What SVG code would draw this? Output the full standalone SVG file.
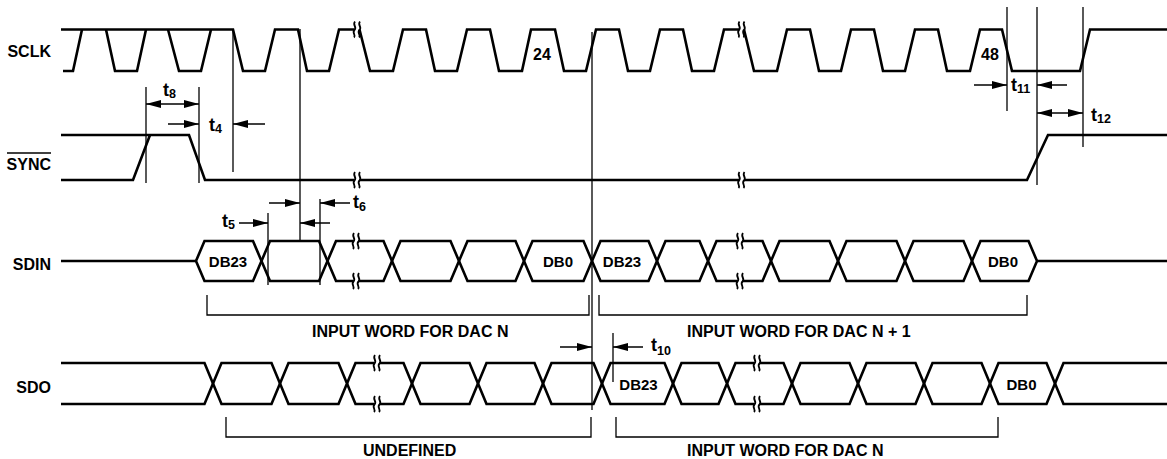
<svg xmlns="http://www.w3.org/2000/svg" xmlns:xlink="http://www.w3.org/1999/xlink" width="1167" height="459" viewBox="0 0 1167 459">
<style>
.sig{fill:none;stroke:#000;stroke-width:2.6;stroke-linejoin:miter;stroke-linecap:butt}
.thin{fill:none;stroke:#000;stroke-width:1.3}
.arr{fill:none;stroke:#000;stroke-width:1.5}
.brk{fill:none;stroke:#000;stroke-width:1.8}
.lbl{font-family:"Liberation Sans",Arial,sans-serif;font-weight:bold;font-size:16px;fill:#000}
.db{font-family:"Liberation Sans",Arial,sans-serif;font-weight:bold;font-size:15px;fill:#000;text-anchor:middle}
.t{font-family:"Liberation Sans",Arial,sans-serif;font-weight:bold;font-size:18px;fill:#000}
.sub{font-size:12.5px}
</style>
<defs>
<marker id="ah" viewBox="0 0 15 8" refX="15" refY="4" markerWidth="15" markerHeight="8" markerUnits="userSpaceOnUse" orient="auto-start-reverse"><path d="M0,0 L15,4 L0,8 Z" fill="#000"/></marker>
<g id="bk" class="brk"><path d="M-2,-8 C-5,-4.5 0.5,-2.5 -2.5,0.5 C-5.5,3.5 -0.5,5.5 -3,8"/><path d="M3,-8 C0,-4.5 5.5,-2.5 2.5,0.5 C-0.5,3.5 4.5,5.5 2,8"/></g>
</defs>
<rect width="1167" height="459" fill="#fff"/>

<g id="labels">
<text class="lbl" x="51" y="57" text-anchor="end">SCLK</text>
<text class="lbl" x="51" y="170" text-anchor="end">SYNC</text>
<line x1="7" y1="153" x2="51" y2="153" stroke="#000" stroke-width="1.5"/>
<text class="lbl" x="51" y="270" text-anchor="end">SDIN</text>
<text class="lbl" x="51" y="393" text-anchor="end">SDO</text>
</g>

<g id="sclk">
<path class="sig" d="M61,29.5 H233 L243,71 H265 L275,29.5 H298 L307,71 H329 L339,29.5 H354.5"/>
<path class="sig" d="M63,71 H73 L82,29.5"/>
<path class="sig" d="M106,29.5 L115,71 H137 L146,29.5"/>
<path class="sig" d="M168,29.5 L179,71 H201 L211,29.5"/>
<path class="sig" d="M359.5,29.5 L370,71 H393 L403,29.5 H426 L435,71 H457 L467,29.5 H490 L499,71 H522 L531,29.5 H555 L564,71 H586 L596,29.5 H619 L628,71 H650 L660,29.5 H683 L692,71 H714 L724,29.5 H739"/>
<path class="sig" d="M744,29.5 L754,71 H777 L787,29.5 H810 L819,71 H841 L851,29.5 H874 L883,71 H905 L915,29.5 H938 L947,71 H970 L980,29.5 H1002 L1012,71 H1080 L1090,29.5 H1167"/>
<use xlink:href="#bk" x="357" y="29.5"/>
<use xlink:href="#bk" x="741.5" y="29.5"/>
<text class="lbl" x="533" y="60">24</text>
<text class="lbl" x="981" y="60">48</text>
</g>

<g id="sync">
<path class="sig" d="M61,135 H189 L205,180 H354.5"/>
<path class="sig" d="M61,180 H133 L150,135"/>
<path class="sig" d="M359.5,180 H739"/>
<path class="sig" d="M744,180 H1027 L1048,135 H1167"/>
<use xlink:href="#bk" x="357" y="180"/>
<use xlink:href="#bk" x="741.5" y="180"/>
</g>

<g id="sdin">
<path class="sig" d="M61,261 H196"/>
<path class="sig" d="M196,261 L204.5,241 H253 L261.5,261 L253,281 H204.5 Z"/>
<path class="sig" d="M261.5,261 L270,241 H319 L327.5,261 L319,281 H270 Z"/>
<path class="sig" d="M327.5,261 L336,241 H353.5 M358.5,241 H383.5 L392,261 L383.5,281 H358.5 M353.5,281 H336 L327.5,261"/>
<path class="sig" d="M392,261 L400.5,241 H450.5 L459,261 L450.5,281 H400.5 Z"/>
<path class="sig" d="M459,261 L467.5,241 H515.5 L524,261 L515.5,281 H467.5 Z"/>
<path class="sig" d="M524,261 L532.5,241 H583.5 L592,261 L583.5,281 H532.5 Z"/>
<path class="sig" d="M592,261 L600.5,241 H648.5 L657,261 L648.5,281 H600.5 Z"/>
<path class="sig" d="M657,261 L665.5,241 H699.5 L708,261 L699.5,281 H665.5 Z"/>
<path class="sig" d="M708,261 L716.5,241 H737.5 M742.5,241 H762.5 L771,261 L762.5,281 H742.5 M737.5,281 H716.5 L708,261"/>
<path class="sig" d="M771,261 L779.5,241 H829.5 L838,261 L829.5,281 H779.5 Z"/>
<path class="sig" d="M838,261 L846.5,241 H896.5 L905,261 L896.5,281 H846.5 Z"/>
<path class="sig" d="M905,261 L913.5,241 H963.5 L972,261 L963.5,281 H913.5 Z"/>
<path class="sig" d="M972,261 L980.5,241 H1028.5 L1037,261 L1028.5,281 H980.5 Z"/>
<path class="sig" d="M1037,261 H1167"/>
<use xlink:href="#bk" x="356" y="241"/>
<use xlink:href="#bk" x="356" y="281"/>
<use xlink:href="#bk" x="740" y="241"/>
<use xlink:href="#bk" x="740" y="281"/>
<text class="db" x="228" y="267">DB23</text>
<text class="db" x="558" y="267">DB0</text>
<text class="db" x="622" y="267">DB23</text>
<text class="db" x="1003" y="267">DB0</text>
</g>

<g id="sdo">
<path class="sig" d="M61,363 H204.5 L213,383.5 L204.5,404 H61"/>
<path class="sig" d="M213,383.5 L221.5,363 H271.5 L280,383.5 L271.5,404 H221.5 Z"/>
<path class="sig" d="M280,383.5 L288.5,363 H338.5 L347,383.5 L338.5,404 H288.5 Z"/>
<path class="sig" d="M347,383.5 L355.5,363 H374.5 M379.5,363 H403.5 L412,383.5 L403.5,404 H379.5 M374.5,404 H355.5 L347,383.5"/>
<path class="sig" d="M412,383.5 L420.5,363 H469.5 L478,383.5 L469.5,404 H420.5 Z"/>
<path class="sig" d="M478,383.5 L486.5,363 H534.5 L543,383.5 L534.5,404 H486.5 Z"/>
<path class="sig" d="M543,383.5 L551.5,363 H593.5 L602,383.5 L593.5,404 H551.5 Z"/>
<path class="sig" d="M602,383.5 L610.5,363 H664.5 L673,383.5 L664.5,404 H610.5 Z"/>
<path class="sig" d="M673,383.5 L681.5,363 H718.5 L727,383.5 L718.5,404 H681.5 Z"/>
<path class="sig" d="M727,383.5 L735.5,363 H754.5 M759.5,363 H783.5 L792,383.5 L783.5,404 H759.5 M754.5,404 H735.5 L727,383.5"/>
<path class="sig" d="M792,383.5 L800.5,363 H849.5 L858,383.5 L849.5,404 H800.5 Z"/>
<path class="sig" d="M858,383.5 L866.5,363 H915.5 L924,383.5 L915.5,404 H866.5 Z"/>
<path class="sig" d="M924,383.5 L932.5,363 H981.5 L990,383.5 L981.5,404 H932.5 Z"/>
<path class="sig" d="M990,383.5 L998.5,363 H1046.5 L1055,383.5 L1046.5,404 H998.5 Z"/>
<path class="sig" d="M1167,363 H1063.5 L1055,383.5 L1063.5,404 H1167"/>
<use xlink:href="#bk" x="377" y="363"/>
<use xlink:href="#bk" x="377" y="404"/>
<use xlink:href="#bk" x="757" y="363"/>
<use xlink:href="#bk" x="757" y="404"/>
<text class="db" x="638.5" y="389.5">DB23</text>
<text class="db" x="1021.5" y="389.5">DB0</text>
</g>

<g id="brackets">
<path class="thin" d="M207,295 V315 H589 V295"/>
<path class="thin" d="M599,295 V315 H1027 V295"/>
<path class="thin" d="M226,417 V437 H591 V417"/>
<path class="thin" d="M616,417 V437 H998 V417"/>
<text class="lbl" x="312" y="337">INPUT WORD FOR DAC N</text>
<text class="lbl" x="687" y="337">INPUT WORD FOR DAC N + 1</text>
<text class="lbl" x="363" y="456">UNDEFINED</text>
<text class="lbl" x="687" y="456">INPUT WORD FOR DAC N</text>
</g>

<g id="connectors">
<line class="thin" x1="146" y1="87" x2="146" y2="183"/>
<line class="thin" x1="199" y1="87" x2="199" y2="183"/>
<line class="thin" x1="233" y1="29" x2="233" y2="172"/>
<line class="thin" x1="300" y1="29" x2="300" y2="242"/>
<line class="thin" x1="268" y1="213" x2="268" y2="285"/>
<line class="thin" x1="320" y1="199" x2="320" y2="285"/>
<line class="thin" x1="592" y1="32" x2="592" y2="410"/>
<line class="thin" x1="613" y1="333" x2="613" y2="382"/>
<line class="thin" x1="1007" y1="7" x2="1007" y2="111"/>
<line class="thin" x1="1037" y1="7" x2="1037" y2="185"/>
<line class="thin" x1="1083" y1="7" x2="1083" y2="147"/>

<line class="arr" x1="146" y1="104" x2="199" y2="104" marker-start="url(#ah)" marker-end="url(#ah)"/>
<line class="arr" x1="168" y1="124" x2="199" y2="124" marker-end="url(#ah)"/>
<line class="arr" x1="265" y1="124" x2="233" y2="124" marker-end="url(#ah)"/>
<line class="arr" x1="269" y1="203" x2="300" y2="203" marker-end="url(#ah)"/>
<line class="arr" x1="350" y1="203" x2="320" y2="203" marker-end="url(#ah)"/>
<line class="arr" x1="239" y1="223" x2="268" y2="223" marker-end="url(#ah)"/>
<line class="arr" x1="330" y1="223" x2="300" y2="223" marker-end="url(#ah)"/>
<line class="arr" x1="560" y1="347" x2="592" y2="347" marker-end="url(#ah)"/>
<line class="arr" x1="643" y1="347" x2="613" y2="347" marker-end="url(#ah)"/>
<line class="arr" x1="974" y1="85" x2="1007" y2="85" marker-end="url(#ah)"/>
<line class="arr" x1="1067" y1="85" x2="1037" y2="85" marker-end="url(#ah)"/>
<line class="arr" x1="1037" y1="113" x2="1083" y2="113" marker-start="url(#ah)" marker-end="url(#ah)"/>

<text class="t" x="163" y="96">t<tspan class="sub" dy="2">8</tspan></text>
<text class="t" x="209" y="131">t<tspan class="sub" dy="2">4</tspan></text>
<text class="t" x="222" y="227">t<tspan class="sub" dy="2">5</tspan></text>
<text class="t" x="353" y="208">t<tspan class="sub" dy="3">6</tspan></text>
<text class="t" x="651" y="351">t<tspan class="sub" dy="4">10</tspan></text>
<text class="t" x="1011" y="91">t<tspan class="sub" dy="2">11</tspan></text>
<text class="t" x="1091" y="121">t<tspan class="sub" dy="2">12</tspan></text>
</g>
</svg>
